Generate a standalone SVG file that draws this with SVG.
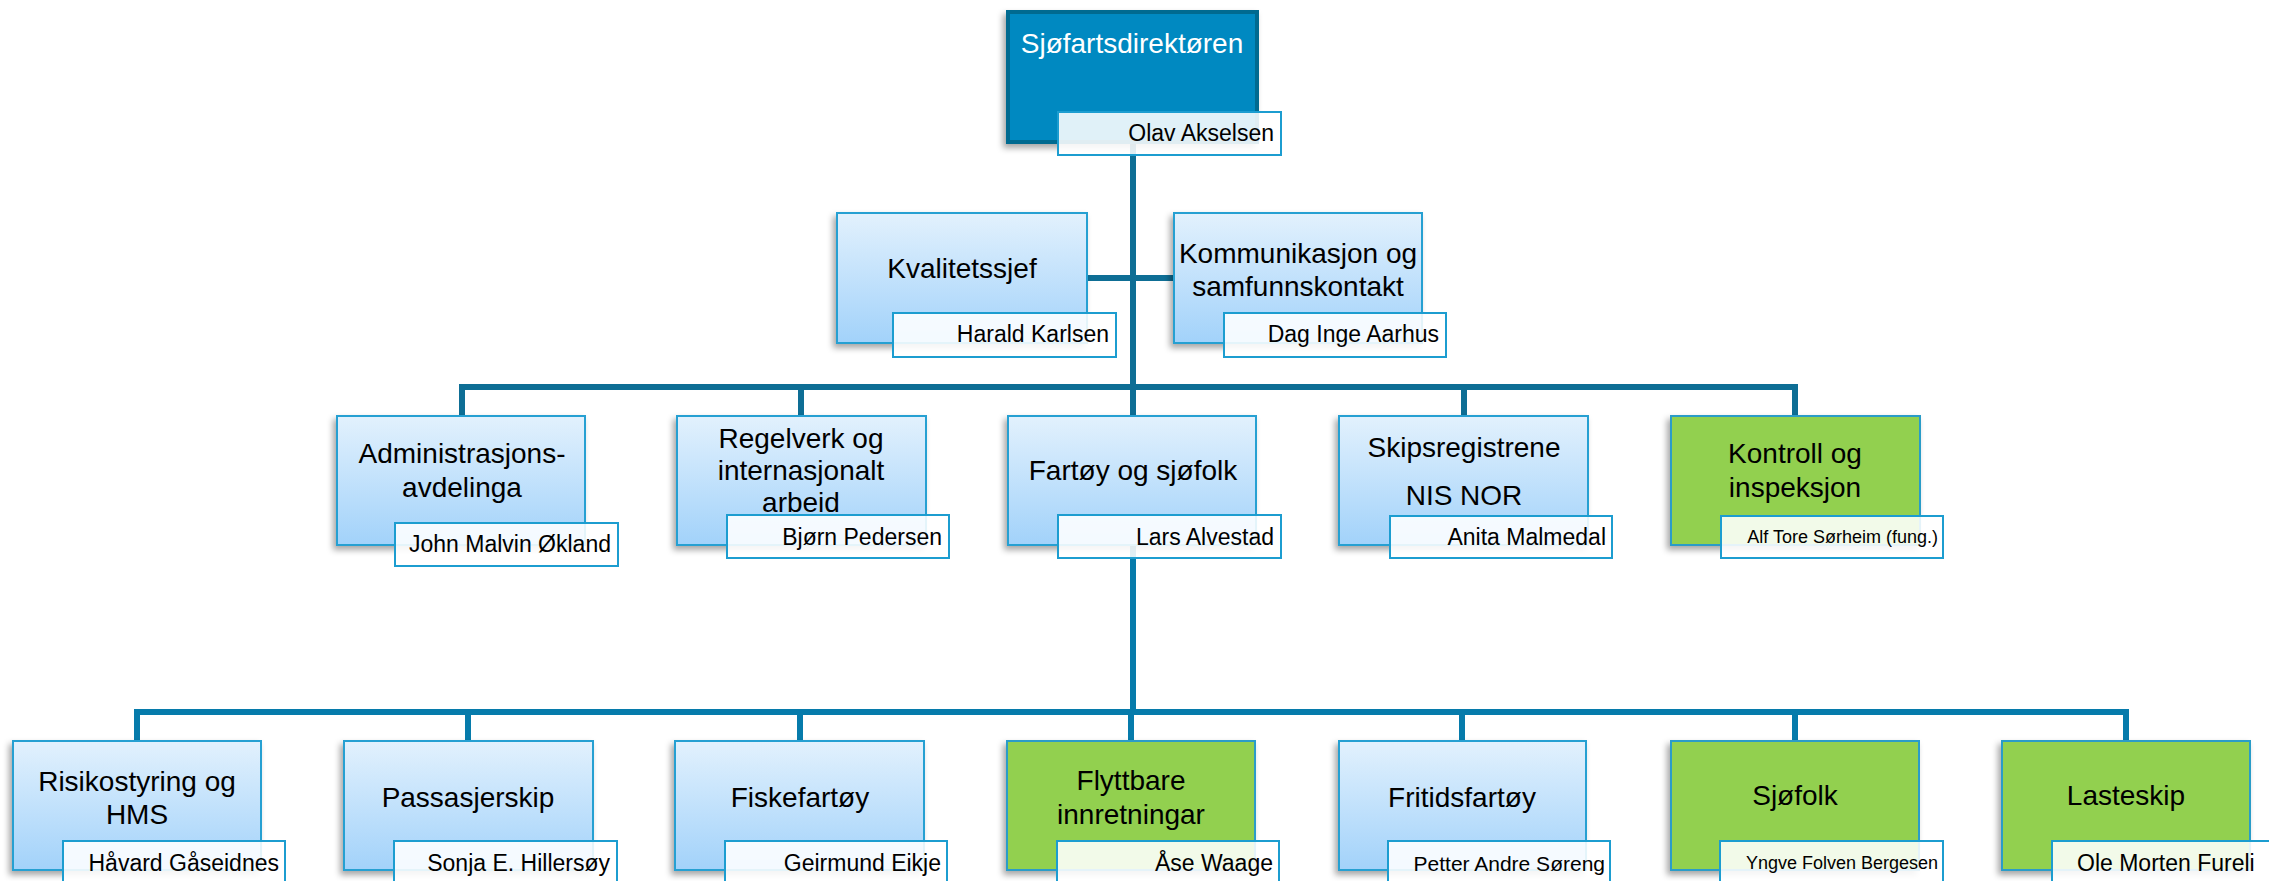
<svg xmlns="http://www.w3.org/2000/svg" width="2269" height="881" viewBox="0 0 2269 881">
<defs>
<linearGradient id="gb" x1="0" y1="0" x2="0" y2="1">
<stop offset="0" stop-color="#e2f1fd"/>
<stop offset="1" stop-color="#a2d2fa"/>
</linearGradient>
<filter id="sh" x="-10%" y="-10%" width="125%" height="130%">
<feDropShadow dx="-3" dy="4" stdDeviation="3" flood-color="#000" flood-opacity="0.35"/>
</filter>
</defs>
<style>
.box{fill:url(#gb);stroke:#27a0d2;stroke-width:2;filter:url(#sh)}
.grn{fill:#92d050;stroke:#2a9cc8;stroke-width:2;filter:url(#sh)}
.top{fill:#0089c1;stroke:#006a90;stroke-width:4;filter:url(#sh)}
.nm{fill:#ffffff;fill-opacity:0.88;stroke:#1c9dd0;stroke-width:2}
.t{font-family:"Liberation Sans",Arial,sans-serif;font-size:28px;fill:#000;text-anchor:middle}
.tw{font-family:"Liberation Sans",Arial,sans-serif;font-size:28px;fill:#fff;text-anchor:middle}
.n{font-family:"Liberation Sans",Arial,sans-serif;font-size:23px;fill:#000;text-anchor:end}
.ns{font-family:"Liberation Sans",Arial,sans-serif;font-size:18px;fill:#000;text-anchor:end}
.c1{stroke:#0e6e95;stroke-width:6;fill:none}
.c2{stroke:#067bab;stroke-width:6;fill:none}
</style>
<g id="connectors">
<path class="c1" d="M1133 144V416M1087 278H1174M462 387H1795M462 384V416M801 387V416M1464 387V416M1795 384V416"/>
<path class="c2" d="M1133 545V712M137 712H2126M137 709V741M468 712V741M800 712V741M1131 712V741M1462 712V741M1795 712V741M2126 709V741"/>
</g>
<g id="n-direktor">
<rect class="top" x="1008" y="12" width="249" height="130"/>
<text class="tw" x="1132" y="53">Sjøfartsdirektøren</text>
<rect class="nm" x="1058" y="112" width="223" height="43"/>
<text class="n" x="1274" y="141">Olav Akselsen</text>
</g>
<g id="n-kvalitet">
<rect class="box" x="837" y="213" width="250" height="130"/>
<text class="t" x="962" y="278">Kvalitetssjef</text>
<rect class="nm" x="893" y="313" width="223" height="44"/>
<text class="n" x="1109" y="342">Harald Karlsen</text>
</g>
<g id="n-kommunikasjon">
<rect class="box" x="1174" y="213" width="248" height="130"/>
<text class="t" x="1298" y="263">Kommunikasjon og</text>
<text class="t" x="1298" y="296">samfunnskontakt</text>
<rect class="nm" x="1224" y="313" width="222" height="44"/>
<text class="n" x="1439" y="342">Dag Inge Aarhus</text>
</g>
<g id="n-admin">
<rect class="box" x="337" y="416" width="248" height="129"/>
<text class="t" x="462" y="463">Administrasjons-</text>
<text class="t" x="462" y="497">avdelinga</text>
<rect class="nm" x="395" y="523" width="223" height="43"/>
<text class="n" x="611" y="552">John Malvin Økland</text>
</g>
<g id="n-regelverk">
<rect class="box" x="677" y="416" width="249" height="129"/>
<text class="t" x="801" y="448">Regelverk og</text>
<text class="t" x="801" y="480">internasjonalt</text>
<text class="t" x="801" y="512">arbeid</text>
<rect class="nm" x="727" y="515" width="222" height="43"/>
<text class="n" x="942" y="545">Bjørn Pedersen</text>
</g>
<g id="n-fartoy">
<rect class="box" x="1008" y="416" width="248" height="129"/>
<text class="t" x="1133" y="480">Fartøy og sjøfolk</text>
<rect class="nm" x="1058" y="515" width="223" height="43"/>
<text class="n" x="1274" y="545">Lars Alvestad</text>
</g>
<g id="n-skipsregistrene">
<rect class="box" x="1339" y="416" width="249" height="129"/>
<text class="t" x="1464" y="457">Skipsregistrene</text>
<text class="t" x="1464" y="505">NIS NOR</text>
<rect class="nm" x="1390" y="516" width="222" height="42"/>
<text class="n" x="1606" y="545">Anita Malmedal</text>
</g>
<g id="n-kontroll">
<rect class="grn" x="1671" y="416" width="249" height="129"/>
<text class="t" x="1795" y="463">Kontroll og</text>
<text class="t" x="1795" y="497">inspeksjon</text>
<rect class="nm" x="1721" y="516" width="222" height="42"/>
<text class="ns" x="1938" y="543">Alf Tore Sørheim (fung.)</text>
</g>
<g id="n-risiko">
<rect class="box" x="13" y="741" width="248" height="129"/>
<text class="t" x="137" y="791">Risikostyring og</text>
<text class="t" x="137" y="824">HMS</text>
<rect class="nm" x="63" y="841" width="222" height="46"/>
<text class="n" x="279" y="871">Håvard Gåseidnes</text>
</g>
<g id="n-passasjer">
<rect class="box" x="344" y="741" width="249" height="129"/>
<text class="t" x="468" y="807">Passasjerskip</text>
<rect class="nm" x="394" y="841" width="223" height="46"/>
<text class="n" x="610" y="871">Sonja E. Hillersøy</text>
</g>
<g id="n-fiske">
<rect class="box" x="675" y="741" width="249" height="129"/>
<text class="t" x="800" y="807">Fiskefartøy</text>
<rect class="nm" x="725" y="841" width="222" height="46"/>
<text class="n" x="941" y="871">Geirmund Eikje</text>
</g>
<g id="n-flyttbare">
<rect class="grn" x="1007" y="741" width="248" height="129"/>
<text class="t" x="1131" y="790">Flyttbare</text>
<text class="t" x="1131" y="824">innretningar</text>
<rect class="nm" x="1057" y="841" width="222" height="46"/>
<text class="n" x="1273" y="871">Åse Waage</text>
</g>
<g id="n-fritids">
<rect class="box" x="1339" y="741" width="247" height="129"/>
<text class="t" x="1462" y="807">Fritidsfartøy</text>
<rect class="nm" x="1388" y="841" width="222" height="46"/>
<text class="n" x="1605" y="871" style="font-size:21px">Petter Andre Søreng</text>
</g>
<g id="n-sjofolk">
<rect class="grn" x="1671" y="741" width="248" height="129"/>
<text class="t" x="1795" y="805">Sjøfolk</text>
<rect class="nm" x="1720" y="841" width="223" height="46"/>
<text class="ns" x="1938" y="869">Yngve Folven Bergesen</text>
</g>
<g id="n-lasteskip">
<rect class="grn" x="2002" y="741" width="248" height="129"/>
<text class="t" x="2126" y="805">Lasteskip</text>
<rect class="nm" x="2052" y="841" width="230" height="46"/>
<text class="n" x="2077" y="871" style="text-anchor:start">Ole Morten Fureli</text>
</g>
</svg>
